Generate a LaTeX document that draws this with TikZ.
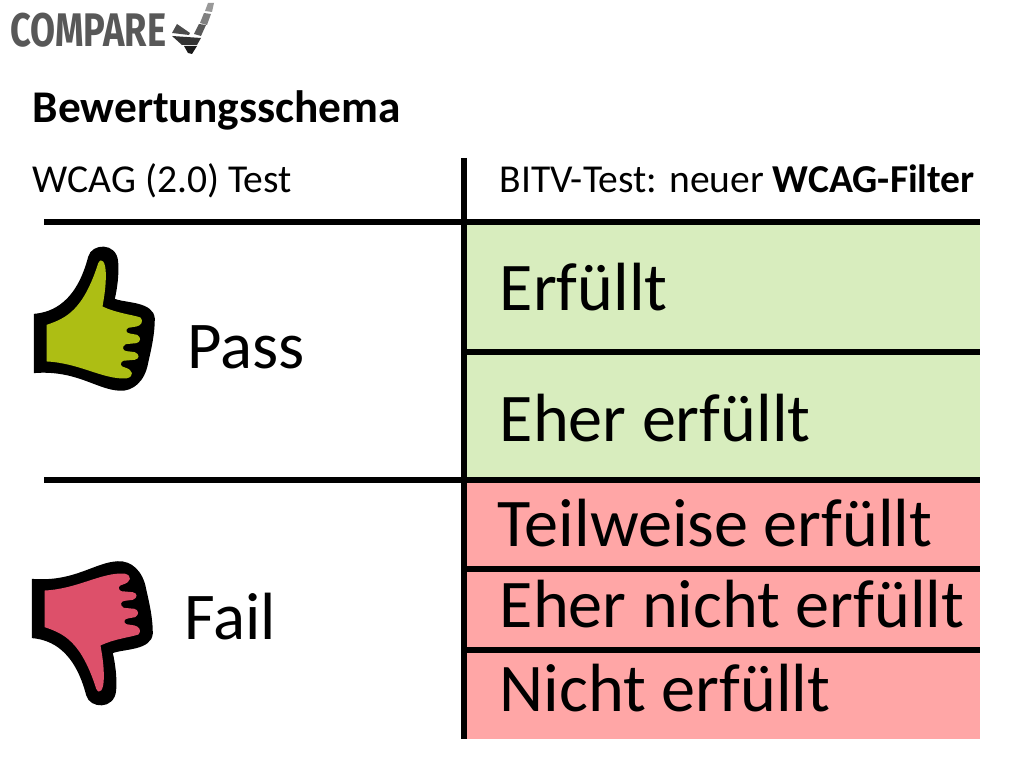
\documentclass[tikz,border=0pt]{standalone}
\usepackage{fontspec}
\setmainfont{Carlito}
\newfontfamily\logofont{Fira Sans}
\usetikzlibrary{calc}
\definecolor{passgreen}{RGB}{216,237,190}
\definecolor{failred}{RGB}{255,166,166}
\definecolor{thumbgreen}{RGB}{173,190,20}
\definecolor{thumbred}{RGB}{221,80,106}
\definecolor{logogray}{RGB}{88,88,88}
\tikzset{
	rule/.style={line width=0.055cm},
	head/.style={anchor=base west, inner sep=0pt, font=\fontsize{11.25pt}{13pt}\selectfont},
	big/.style={anchor=base west, inner sep=0pt, font=\fontsize{19.4pt}{22pt}\selectfont},
}
\newcommand{\thumbup}[1]{
	\fill [black] (42,237) .. controls (100,232) and (170,200) .. (205,65)
		.. controls (215,25) and (290,20) .. (295,80)
		.. controls (298,120) and (292,160) .. (285,192)
		.. controls (320,205) and (400,200) .. (405,250)
		.. controls (405,300) and (395,340) .. (385,385)
		.. controls (375,440) and (340,470) .. (300,468)
		.. controls (230,465) and (170,405) .. (42,415) -- cycle;
	\fill [#1] (80,270) .. controls (140,250) and (190,225) .. (235,85)
		.. controls (245,65) and (258,80) .. (258,120)
		.. controls (258,160) and (252,190) .. (248,215)
		.. controls (290,235) and (340,240) .. (362,248)
		.. controls (372,258) and (365,272) .. (350,275)
		-- (325,279) .. controls (315,285) and (320,295) .. (330,296)
		-- (352,300) .. controls (366,308) and (362,322) .. (350,325)
		-- (318,328) .. controls (305,335) and (308,348) .. (320,349)
		-- (345,352) .. controls (360,358) and (360,372) .. (345,375)
		-- (310,378) .. controls (298,385) and (302,396) .. (315,398)
		.. controls (340,405) and (345,425) .. (320,431)
		.. controls (250,435) and (180,385) .. (80,380) -- cycle;
}
\begin{document}
\begin{tikzpicture}[x=0.01cm,y=-0.01cm]
	\useasboundingbox (0,0) rectangle (1024,768);
	\fill [white] (0,0) rectangle (1024,768);
	% coloured bands
	\fill [passgreen] (466,224) rectangle (980,480);
	\fill [failred] (466,480) rectangle (980,739);
	% grid lines
	\coordinate (ruletop) at (464,158);
	\coordinate (rulebottom) at (464,739);
	\draw [rule] (ruletop) -- (rulebottom);
	\draw [rule] (44,222) -- (980,222);
	\draw [rule] (44,480) -- (980,480);
	\draw [rule] (466,352) -- (980,352);
	\draw [rule] (466,569) -- (980,569);
	\draw [rule] (466,650) -- (980,650);
	% logo
	\node (logo) [anchor=base west, inner sep=0pt, text=logogray, xscale=0.77, yscale=1.0, font=\logofont\bfseries\fontsize{13.4pt}{14pt}\selectfont] at (10,46.5) {COMPARE};
	\fill [black!40] (205,11) -- (208,3) -- (214,3) -- (212,12) -- cycle;
	\fill [black!50] (200,23) -- (204,13) -- (211,14) -- (207,25) -- cycle;
	\fill [black!65] (194,34) -- (199,24) -- (206,25) -- (201,36) -- cycle;
	\fill [black!70] (172,33) -- (177,24) -- (190,33) -- (189,35) -- cycle;
	\fill [black!80] (172,36) -- (201,38) -- (197,45) -- (182,45) -- cycle;
	\fill [black!90] (184,46) -- (197,46) -- (192,54) -- (188,53) -- cycle;
	% titles
	\node (title) [head, font=\bfseries\fontsize{12.9pt}{15pt}\selectfont] at (32,123) {Bewertungsschema};
	\node (wcag) [head] at (32,193) {WCAG (2.0) Test};
	\node (bitv) [head] at (499,193) {BITV-Test: neuer \textbf{WCAG-Filter}};
	% left column
	\begin{scope}[shift={(20,235)},x=0.00333cm,y=-0.00333cm]
		\thumbup{thumbgreen}
	\end{scope}
	\begin{scope}[shift={(18,717)},x=0.00333cm,y=0.00333cm]
		\thumbup{thumbred}
	\end{scope}
	\node (pass) [big, font=\fontsize{19pt}{22pt}\selectfont] at (187,369) {Pass};
	\node (fail) [big, font=\fontsize{19pt}{22pt}\selectfont] at (184,640) {Fail};
	% right column
	\node (erfuellt) [big] at (499,311) {Erfüllt};
	\node (eher) [big] at (499,442) {Eher erfüllt};
	\node (teilweise) [big] at (497,547) {Teilweise erfüllt};
	\node (ehernicht) [big] at (499,628) {Eher nicht erfüllt};
	\node (nicht) [big] at (499,712) {Nicht erfüllt};
\end{tikzpicture}
\end{document}
